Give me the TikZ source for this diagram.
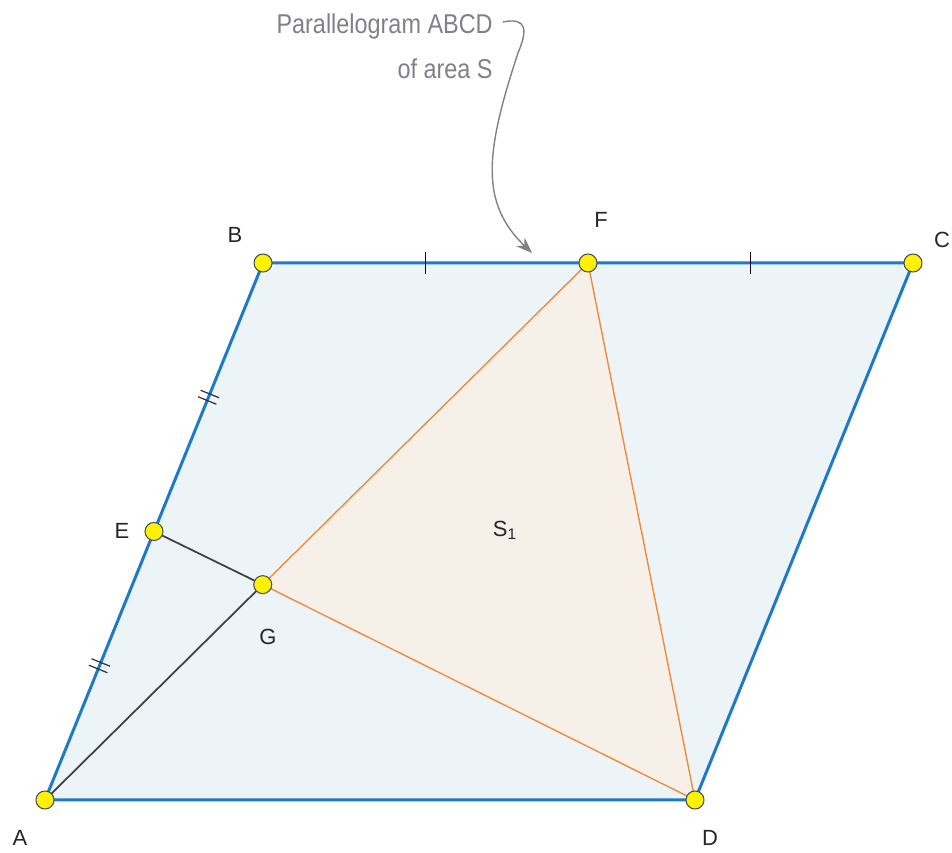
\documentclass[tikz,border=0pt]{standalone}
\usepackage{fontspec}
\setmainfont{Liberation Sans}
\usetikzlibrary{arrows.meta, calc}
\definecolor{sideblue}{RGB}{30,122,200}
\definecolor{paraFill}{RGB}{236,244,248}
\definecolor{triFill}{RGB}{246,240,233}
\definecolor{triOrange}{RGB}{238,140,62}
\definecolor{noteGray}{RGB}{128,128,136}

\begin{document}
\begin{tikzpicture}[
    pt/.style={circle, draw=black!70, fill=yellow, line width=0.6pt,
               inner sep=0pt, minimum size=0.36cm},
    lbl/.style={font=\fontsize{12.5}{14}\selectfont, text=black!85},
    side/.style={draw=sideblue, line width=1.7pt},
    tick/.style={draw=black!80!violet, line width=0.8pt}
  ]
    \useasboundingbox (0,0) rectangle (19.04,17.06);

    \coordinate (A) at (0.90,1.06);
    \coordinate (B) at (5.26,11.80);
    \coordinate (C) at (18.26,11.80);
    \coordinate (D) at (13.90,1.06);
    \coordinate (E) at ($(A)!0.5!(B)$);
    \coordinate (F) at ($(B)!0.5!(C)$);
    \coordinate (G) at ($(A)!0.401!(F)$);

    % areas
    \fill[paraFill] (A) -- (B) -- (C) -- (D) -- cycle;
    \filldraw[fill=triFill, draw=triOrange, line width=0.8pt] (G) -- (F) -- (D) -- cycle;
    \draw[side] (A) -- (B) -- (C) -- (D) -- cycle;
    \draw[black!75, line width=1pt] (A) -- (G) -- (E);

    % equal marks
    \coordinate (t1) at ($(B)!0.5!(F)$);
    \coordinate (t2) at ($(F)!0.5!(C)$);
    \draw[tick] ($(t1)+(0,0.22)$) -- ($(t1)+(0,-0.22)$);
    \draw[tick] ($(t2)+(0,0.22)$) -- ($(t2)+(0,-0.22)$);
    \coordinate (m1) at ($(A)!0.5!(E)$);
    \coordinate (m2) at ($(E)!0.5!(B)$);
    \foreach \p in {m1,m2} {
      \coordinate (p1) at ($(\p)!0.07cm!(B)$);
      \coordinate (p2) at ($(\p)!-0.07cm!(B)$);
      \draw[black!80, line width=0.7pt] ($(p1)!0.2cm!90:(B)$) -- ($(p1)!0.2cm!-90:(B)$);
      \draw[black!80, line width=0.7pt] ($(p2)!0.2cm!90:(B)$) -- ($(p2)!0.2cm!-90:(B)$);
    }

    % points
    \foreach \p in {A,B,C,D,E,F,G}
      \node[pt] (d\p) at (\p) {};

    \node[lbl] (lA) at (0.40,0.30) {A};
    \node[lbl] (lB) at (4.70,12.36) {B};
    \node[lbl] (lC) at (18.84,12.26) {C};
    \node[lbl] (lD) at (14.20,0.30) {D};
    \node[lbl] (lE) at (2.44,6.44) {E};
    \node[lbl] (lF) at (12.02,12.66) {F};
    \node[lbl] (lG) at (5.36,4.32) {G};
    \node[lbl] (s1) at (10.10,6.46) {S\textsubscript{1}};

    % note
    \node[font=\fontsize{15.5}{26}\selectfont, text=noteGray, align=right,
          anchor=north east, inner sep=0pt] (note) at (9.86,16.80)
          {\addfontfeature{FakeStretch=0.86}Parallelogram ABCD\\ \addfontfeature{FakeStretch=0.86}of area S};
    \coordinate (tip) at (10.64,12.00);
    \draw[noteGray, line width=0.8pt, -{Stealth[length=0.32cm, width=0.24cm]}]
      (10.06,16.62) .. controls (10.55,16.72) and (10.55,16.45) .. (10.36,16.0)
      .. controls (9.7,14) and (9.6,13) .. (tip);
\end{tikzpicture}
\end{document}
